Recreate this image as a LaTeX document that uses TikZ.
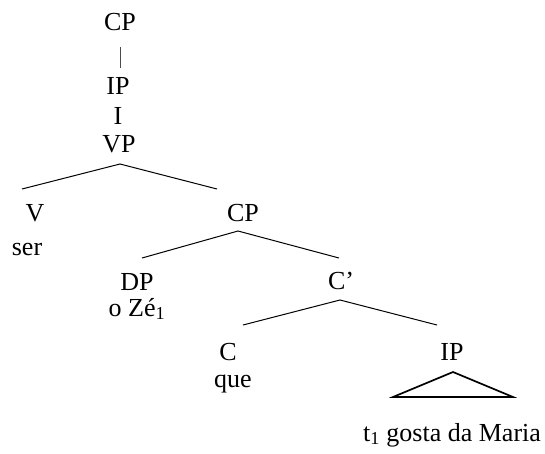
\documentclass[tikz,border=0pt]{standalone}
\usepackage{fontspec}
\setmainfont{Liberation Serif}
\begin{document}
\begin{tikzpicture}[x=1pt, y=-1pt,
        font=\fontsize{26}{30}\selectfont,
        cat/.style={anchor=base, inner sep=0pt},
        branch/.style={line width=1pt},
        roof/.style={line width=1.7pt, line join=miter}]
      \useasboundingbox (0,0) rectangle (545,453);
      % labels
      \node[cat] (cp) at (120,30.5) {CP};
      \node[cat] (ip) at (118,94.5) {IP};
      \node[cat] (i) at (118,124.5) {I};
      \node[cat] (vp) at (119,152.5) {VP};
      \node[cat] (v) at (35,221.5) {V};
      \node[cat] (ser) at (27,255) {ser};
      \node[cat] (cpb) at (243,221.5) {CP};
      \node[cat] (dp) at (137,290.5) {DP};
      \node[cat] (ze) at (137,316) {o Zé\textsubscript{1}};
      \node[cat] (cbar) at (341,289.5) {C’};
      \node[cat] (c) at (228,360.5) {C};
      \node[cat] (que) at (233,387) {que};
      \node[cat] (ipb) at (452,360.5) {IP};
      \node[cat] (str) at (452,441) {t\textsubscript{1} gosta da Maria};
      % branch points
      \coordinate (cp-foot) at (120,47);
      \coordinate (ip-head) at (120,68);
      \coordinate (vp-top) at (120,164);
      \coordinate (v-end) at (22,189);
      \coordinate (cpb-end) at (217,189);
      \coordinate (cpb-top) at (238,231);
      \coordinate (dp-end) at (142,258);
      \coordinate (cbar-end) at (339,258);
      \coordinate (cbar-top) at (340,300);
      \coordinate (c-end) at (243,325);
      \coordinate (ipb-end) at (437,325);
      \coordinate (roof-top) at (453,372);
      \coordinate (roof-l) at (393,397);
      \coordinate (roof-r) at (513,397);
      % tree
      \draw[branch, black!70] (cp-foot) -- (ip-head);
      \draw[branch] (v-end) -- (vp-top) -- (cpb-end);
      \draw[branch] (dp-end) -- (cpb-top) -- (cbar-end);
      \draw[branch] (c-end) -- (cbar-top) -- (ipb-end);
      \draw[roof] (roof-l) -- (roof-top) -- (roof-r) -- cycle;
    \end{tikzpicture}
\end{document}
